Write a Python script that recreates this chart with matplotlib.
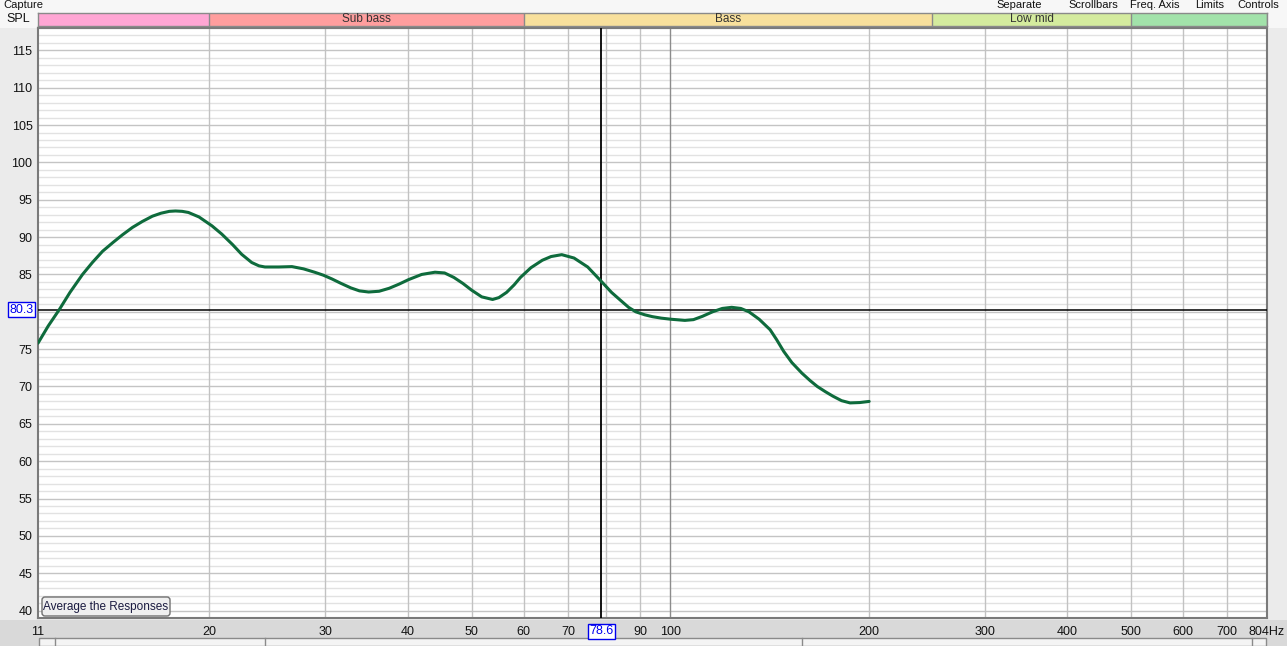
import numpy as np
import matplotlib
matplotlib.use('Agg')
import matplotlib.pyplot as plt
import matplotlib.patches as patches
from matplotlib.transforms import IdentityTransform

freq = [11.0, 11.4, 11.85, 12.3, 12.85, 13.3, 13.78, 14.3, 14.77, 15.3, 15.84,
        16.4, 16.9, 17.4, 17.78, 18.2, 18.6, 19.3, 20.2, 20.9, 21.7, 22.4, 23.2,
        23.8, 24.3, 25.5, 26.7, 27.8, 28.9, 29.8, 30.7, 31.7, 32.8, 33.8, 34.9,
        36.2, 37.5, 38.8, 40.1, 42.0, 44.0, 45.5, 47.0, 48.5, 50.0, 51.8, 53.8,
        55.0, 56.5, 58.0, 59.3, 61.5, 64.0, 66.0, 68.5, 71.5, 75.0, 78.6, 81.5,
        84.2, 86.5, 88.7, 91.5, 94.0, 97.0, 100.4, 105.3, 108.5, 112.0, 116.0,
        120.0, 124.0, 128.0, 131.7, 136.5, 141.8, 145.0, 148.7, 153.0, 158.4,
        163.0, 167.2, 172.0, 176.6, 182.0, 187.5, 194.0, 200.4]
spl = [75.8, 78.1, 80.3, 82.6, 85.0, 86.6, 88.1, 89.3, 90.3, 91.3, 92.1,
       92.8, 93.2, 93.45, 93.5, 93.45, 93.3, 92.7, 91.5, 90.4, 89.0, 87.7, 86.6,
       86.15, 86.0, 86.0, 86.05, 85.75, 85.3, 84.9, 84.4, 83.8, 83.2, 82.8, 82.65,
       82.75, 83.15, 83.7, 84.3, 85.0, 85.3, 85.2, 84.6, 83.8, 82.9, 82.0, 81.65,
       81.9, 82.6, 83.6, 84.6, 85.9, 86.9, 87.4, 87.65, 87.2, 86.0, 84.1, 82.6,
       81.5, 80.6, 80.0, 79.6, 79.35, 79.15, 79.0, 78.85, 78.95, 79.4, 80.0,
       80.45, 80.6, 80.45, 80.0, 79.0, 77.6, 76.3, 74.7, 73.2, 71.8,
       70.8, 70.0, 69.3, 68.7, 68.1, 67.8, 67.85, 68.0]

cursor_f = 78.6
cursor_db = 80.3

x_ticks = [11, 20, 30, 40, 50, 60, 70, 90, 100, 200, 300, 400, 500, 600, 700, 804]
x_labels = ['11', '20', '30', '40', '50', '60', '70', '90', '100', '200', '300',
            '400', '500', '600', '700', '804Hz']
x_grid = [20, 30, 40, 50, 60, 70, 80, 90, 200, 300, 400, 500, 600, 700]
y_labels = [115, 110, 105, 100, 95, 90, 85, 75, 70, 65, 60, 55, 50, 45, 40]

bands = [(11, 20, '', '#FFA6D4'), (20, 60, 'Sub bass', '#FF9E9E'),
         (60, 250, 'Bass', '#F8E09C'), (250, 500, 'Low mid', '#D4EB9E'),
         (500, 804, '', '#A2E2AA')]

toolbar = [(3, 'Capture'), (1019, 'Separate'), (1093, 'Scrollbars'),
           (1155, 'Freq. Axis'), (1210, 'Limits'), (1258, 'Controls')]

W, H = 1287, 646
plt.rcParams['font.family'] = ['Liberation Sans', 'DejaVu Sans']

def fx(px):
    return px / W

def fy(py):
    return 1 - py / H

fig = plt.figure(figsize=(W / 100, H / 100), dpi=100)
fig.patch.set_facecolor('#EBEBEB')
fig.patches.append(patches.Rectangle((0, fy(28)), 1, 28 / H, transform=fig.transFigure,
                                     facecolor='#F7F7F7', edgecolor='none', zorder=-5))
fig.patches.append(patches.Rectangle((0, 0), 1, fy(620), transform=fig.transFigure,
                                     facecolor='#D9D9D9', edgecolor='none', zorder=-5))
# scrollbar strip at bottom
fig.patches.append(patches.Rectangle((fx(39), 0), fx(1266) - fx(39), fy(638),
                                     transform=fig.transFigure, facecolor='#F4F4F4',
                                     edgecolor='#8A8A8A', lw=1, zorder=-4))
for sx in [55, 265, 802, 1252]:
    fig.lines.append(plt.Line2D([fx(sx), fx(sx)], [0, fy(638)], transform=fig.transFigure,
                                color='#8A8A8A', lw=1))

left, right, top, bottom = 38, 1267, 28, 618
ax = fig.add_axes([fx(left), fy(bottom), fx(right) - fx(left), fy(top) - fy(bottom)])
ax.set_xscale('log')
ax.set_xlim(11, 804)
ax.set_ylim(39.0, 118.0)
ax.set_facecolor('white')

for d in range(39, 119):
    if d % 5 == 0:
        ax.axhline(d, color='#C4C4C4', lw=1, zorder=1)
    else:
        ax.axhline(d, color='#E2E2E2', lw=1, zorder=0)
for g in x_grid:
    ax.axvline(g, color='#C2C2C2', lw=1, zorder=1)
ax.axvline(100, color='#8C8C8C', lw=1, zorder=1)

ax.plot(freq, spl, color='#0E6B3C', lw=2.2, zorder=4, solid_joinstyle='round',
        solid_capstyle='round', antialiased=True)

ax.axvline(cursor_f, color='black', lw=1.3, zorder=3)
ax.axhline(cursor_db, color='black', lw=1.1, zorder=3)

ax.set_xticks(x_ticks)
ax.set_xticklabels(x_labels)
ax.xaxis.set_minor_locator(plt.NullLocator())
ax.set_yticks(y_labels)
ax.set_yticklabels([str(v) for v in y_labels])
ax.tick_params(axis='both', length=0, labelsize=9, colors='#111111')
ax.tick_params(axis='x', pad=6)
ax.tick_params(axis='y', pad=4)
for s in ax.spines.values():
    s.set_color('#7A7A7A')
    s.set_linewidth(1.5)

# cursor readouts
ax.text(cursor_f, -0.012, '78.6', transform=ax.get_xaxis_transform(), ha='center', va='top',
        fontsize=9, color='#0000EE',
        bbox=dict(boxstyle='square,pad=0.12', facecolor='white', edgecolor='#0000EE', lw=1))
ax.text(-0.0035, cursor_db, '80.3', transform=ax.get_yaxis_transform(), ha='right', va='center',
        fontsize=9, color='#0000EE',
        bbox=dict(boxstyle='square,pad=0.12', facecolor='white', edgecolor='#0000EE', lw=1))

# band strip
bax = fig.add_axes([fx(left), fy(26), fx(right) - fx(left), 13 / H])
bax.set_xscale('log')
bax.set_xlim(11, 804)
bax.set_ylim(0, 1)
for lo, hi, name, col in bands:
    bax.axvspan(lo, hi, color=col, lw=0)
    bax.axvline(hi, color='#8A8A8A', lw=1)
    if name:
        bax.text(np.sqrt(lo * hi), 0.5, name, ha='center', va='center', fontsize=8.5,
                 color='#333333')
bax.set_xticks([])
bax.set_yticks([])
bax.xaxis.set_minor_locator(plt.NullLocator())
for s in bax.spines.values():
    s.set_color('#8A8A8A')
    s.set_linewidth(1)

fig.text(fx(18), fy(19), 'SPL', ha='center', va='center', fontsize=9, color='#111111')

# toolbar labels along the top edge
for tx, label in toolbar:
    fig.text(fx(tx), fy(5), label, ha='left' if tx < 10 else 'center', va='center',
             fontsize=8, color='#111111')

# button
btn = patches.FancyBboxPatch((42, H - 616), 128, 19, boxstyle='round,pad=0,rounding_size=3',
                             transform=IdentityTransform(), facecolor='#EFEFEF',
                             edgecolor='#707070', lw=1, zorder=10)
fig.patches.append(btn)
fig.text(fx(106), fy(607), 'Average the Responses', ha='center', va='center', fontsize=8.5,
         color='#1A1A40', zorder=11)

fig.savefig('out.png', dpi=100, facecolor=fig.get_facecolor())
